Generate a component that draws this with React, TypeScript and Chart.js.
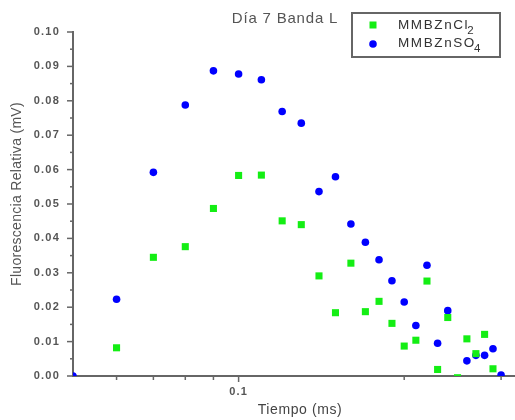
import React, { useEffect, useRef } from "react";
import { Chart, registerables } from "chart.js";

Chart.register(...registerables);

const chartTitle = "Día 7 Banda L";
const xAxisTitle = "Tiempo (ms)";
const yAxisTitle = "Fluorescencia Relativa (mV)";

const timeMs = [
  0.05, 0.06, 0.07, 0.08, 0.09, 0.1, 0.11, 0.12, 0.13, 0.14, 0.15, 0.16, 0.17,
  0.18, 0.19, 0.2, 0.21, 0.22, 0.23, 0.24, 0.25, 0.26, 0.27, 0.28, 0.29, 0.3,
];

const znCl2 = [
  null, 0.0082, 0.0345, 0.0376, 0.0487, 0.0583, 0.0584, 0.0451, 0.044, 0.0291,
  0.0184, 0.0328, 0.0187, 0.0217, 0.0153, 0.0087, 0.0104, 0.0276, 0.0019,
  0.017, -0.0005, 0.0108, 0.0065, 0.0121, 0.0021, null,
];

const znSO4 = [
  0.0, 0.0223, 0.0592, 0.0788, 0.0887, 0.0878, 0.0861, 0.0769, 0.0735, 0.0536,
  0.0579, 0.0442, 0.0389, 0.0338, 0.0277, 0.0215, 0.0147, 0.0322, 0.0095,
  0.019, null, 0.0044, 0.006, 0.006, 0.0079, 0.0003,
];

const seriesLabels = ["MMBZnCl₂", "MMBZnSO₄"];
const seriesColors = ["#14ee14", "#0000ff"];

const yMajorTicks = [0, 0.01, 0.02, 0.03, 0.04, 0.05, 0.06, 0.07, 0.08, 0.09, 0.1];
const yMinorTicks = [0.005, 0.015, 0.025, 0.035, 0.045, 0.055, 0.065, 0.075, 0.085, 0.095];
const xMajorTicks = [0.1];
const xMinorTicks = [0.06, 0.07, 0.08, 0.09, 0.2, 0.3];
const xMin = 0.05;
const xMax = 0.318;

const SUBS = "₀₁₂₃₄₅₆₇₈₉";

const decorPlugin = {
  id: "decor",
  beforeDraw(chart: any) {
    chart.ctx.letterSpacing = "1.2px";
  },
  afterDraw(chart: any) {
    const { ctx, chartArea, scales } = chart;
    const x = scales.x;
    const y = scales.y;
    ctx.save();
    ctx.letterSpacing = "0px";
    ctx.strokeStyle = "#666";
    ctx.lineWidth = 1.5;
    const line = (x1: number, y1: number, x2: number, y2: number) => {
      ctx.beginPath();
      ctx.moveTo(x1, y1);
      ctx.lineTo(x2, y2);
      ctx.stroke();
    };
    yMajorTicks.forEach((v) => {
      const p = y.getPixelForValue(v);
      line(chartArea.left - 6, p, chartArea.left, p);
    });
    yMinorTicks.forEach((v) => {
      const p = y.getPixelForValue(v);
      line(chartArea.left - 3, p, chartArea.left, p);
    });
    xMajorTicks.forEach((v) => {
      const p = x.getPixelForValue(v);
      line(p, chartArea.bottom, p, chartArea.bottom + 6);
    });
    xMinorTicks.forEach((v) => {
      const p = x.getPixelForValue(v);
      line(p, chartArea.bottom, p, chartArea.bottom + 4);
    });

    ctx.fillStyle = "#555";
    ctx.textAlign = "center";
    ctx.textBaseline = "middle";
    ctx.font = "15px 'Liberation Sans', Arial, sans-serif";
    ctx.letterSpacing = "0.8px";
    ctx.fillText(chartTitle, 285, 19);

    ctx.font = "14px 'Liberation Sans', Arial, sans-serif";
    ctx.fillStyle = "#444";
    ctx.letterSpacing = "0.6px";
    ctx.fillText(xAxisTitle, 300, 410);

    ctx.letterSpacing = "0.3px";
    ctx.fillStyle = "#555";
    ctx.save();
    ctx.translate(17, 194);
    ctx.rotate(-Math.PI / 2);
    ctx.fillText(yAxisTitle, 0, 0);
    ctx.restore();

    const bx = 352, by = 13, bw = 148, bh = 44;
    ctx.fillStyle = "#fff";
    ctx.fillRect(bx, by, bw, bh);
    ctx.strokeStyle = "#666";
    ctx.lineWidth = 2;
    ctx.strokeRect(bx, by, bw, bh);
    const rows = [25, 43];
    chart.data.datasets.forEach((ds: any, i: number) => {
      const cy = rows[i];
      ctx.fillStyle = ds.backgroundColor;
      if (ds.pointStyle === "rect") {
        ctx.fillRect(373 - 3.5, cy - 3.5, 7, 7);
      } else {
        ctx.beginPath();
        ctx.arc(373, cy + 1, 3.8, 0, Math.PI * 2);
        ctx.fill();
      }
      const label: string = ds.label;
      let base = "";
      let sub = "";
      for (const ch of label) {
        const k = SUBS.indexOf(ch);
        if (k >= 0) sub += String(k);
        else base += ch;
      }
      ctx.fillStyle = "#333";
      ctx.textAlign = "left";
      ctx.textBaseline = "middle";
      ctx.font = "13.5px 'Liberation Sans', Arial, sans-serif";
      ctx.letterSpacing = "1.6px";
      ctx.fillText(base, 398, cy);
      const w = ctx.measureText(base).width;
      ctx.font = "11.5px 'Liberation Sans', Arial, sans-serif";
      ctx.letterSpacing = "0px";
      ctx.fillText(sub, 398 + w - 2, cy + 6);
    });
    ctx.restore();
    ctx.letterSpacing = "0px";
  },
};

export default function App() {
  const ref = useRef<HTMLCanvasElement | null>(null);
  useEffect(() => {
    document.body.style.margin = "0";
    const canvas = ref.current;
    if (!canvas) return;
    const mk = (vals: (number | null)[]) =>
      timeMs.map((t, i) => ({ x: t, y: vals[i] }));
    const chart = new Chart(canvas, {
      type: "scatter",
      data: {
        datasets: [
          {
            label: seriesLabels[0],
            data: mk(znCl2) as any,
            backgroundColor: seriesColors[0],
            borderColor: seriesColors[0],
            pointStyle: "rect",
            pointRadius: 5,
            borderWidth: 0,
            clip: 0,
          },
          {
            label: seriesLabels[1],
            data: mk(znSO4) as any,
            backgroundColor: seriesColors[1],
            borderColor: seriesColors[1],
            pointStyle: "circle",
            pointRadius: 3.8,
            borderWidth: 0,
            clip: 0,
          },
        ],
      },
      options: {
        responsive: false,
        animation: false,
        devicePixelRatio: 1,
        layout: { autoPadding: false, padding: { top: 32, left: 0, right: 0, bottom: 0 } },
        plugins: {
          legend: { display: false },
          title: { display: false },
          tooltip: { enabled: false },
        },
        scales: {
          x: {
            type: "logarithmic",
            min: xMin,
            max: xMax,
            grid: { display: false, drawTicks: false },
            border: { display: true, color: "#666", width: 2 },
            afterBuildTicks: (scale: any) => {
              scale.ticks = xMajorTicks.map((v) => ({ value: v, major: true }));
            },
            afterFit: (scale: any) => {
              scale.height = 44;
            },
            ticks: {
              autoSkip: false,
              maxRotation: 0,
              padding: 9,
              color: "#555",
              font: { family: "'Liberation Sans', Arial, sans-serif", size: 11, weight: "bold" },
              callback: (v: any) => String(v),
            },
          },
          y: {
            type: "linear",
            min: 0,
            max: 0.1,
            grid: { display: false, drawTicks: false },
            border: { display: true, color: "#666", width: 2 },
            afterFit: (scale: any) => {
              scale.width = 73;
            },
            ticks: {
              stepSize: 0.01,
              padding: 13,
              color: "#555",
              font: { family: "'Liberation Sans', Arial, sans-serif", size: 11, weight: "bold" },
              callback: (v: any) => Number(v).toFixed(2),
            },
          },
        },
      },
      plugins: [decorPlugin],
    } as any);
    return () => chart.destroy();
  }, []);
  return <canvas ref={ref} width={515} height={420} style={{ display: "block" }} />;
}
